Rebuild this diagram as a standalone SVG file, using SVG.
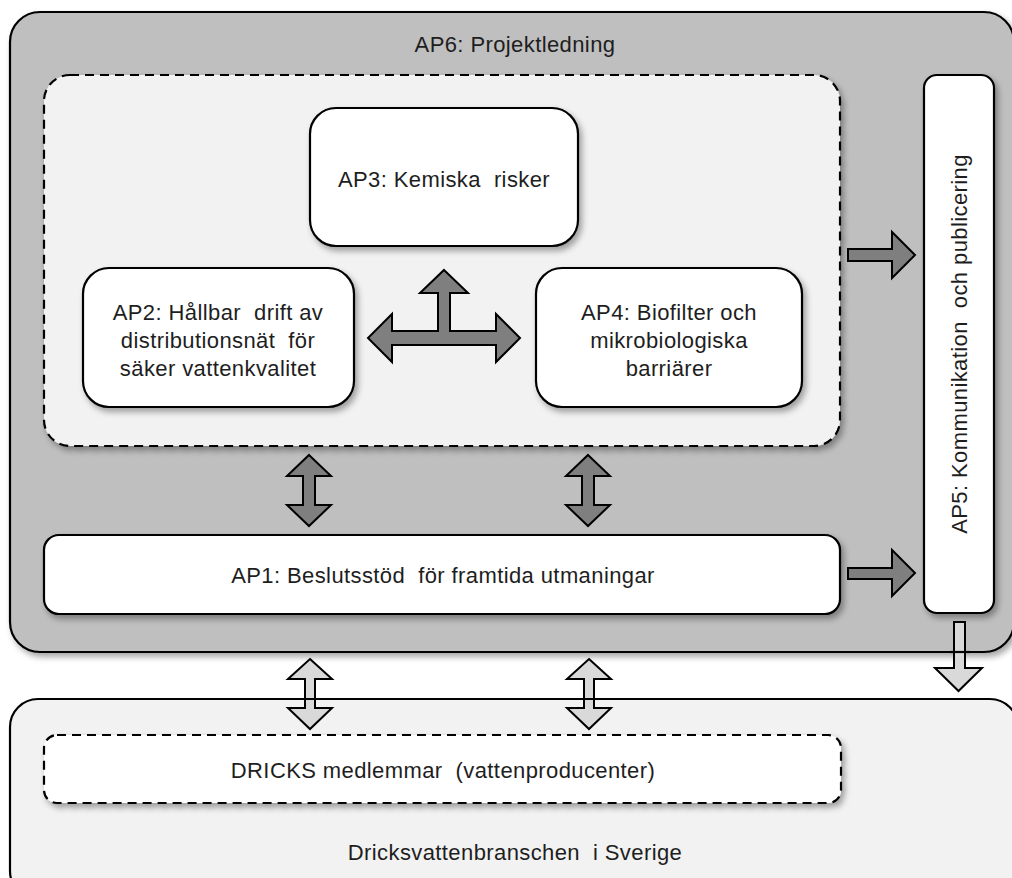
<svg xmlns="http://www.w3.org/2000/svg" width="1012" height="878" viewBox="0 0 1012 878">
<defs>
<filter id="sh" x="-10%" y="-10%" width="130%" height="130%">
<feDropShadow dx="3" dy="4" stdDeviation="3" flood-color="#000" flood-opacity="0.35"/>
</filter>
</defs>
<style>
.box{stroke:#000;stroke-width:2.2}
.dash{stroke:#000;stroke-width:2.2;stroke-dasharray:9 6}
.t{font-family:"Liberation Sans",Arial,sans-serif;font-size:22px;fill:#1e1e1e;text-anchor:middle;letter-spacing:0.4px;white-space:pre}
.dark{fill:#7f7f7f;stroke:#000;stroke-width:2;stroke-linejoin:miter}
.light{fill:#d9d9d9;stroke:#000;stroke-width:2;stroke-linejoin:miter}
.ol{fill:none;stroke:#000;stroke-width:2.2}
</style>
<rect width="1012" height="878" fill="#fff"/>
<g id="ap6">
<rect class="box" x="10" y="12" width="1004" height="640" rx="30" fill="#bfbfbf" filter="url(#sh)"/>
<text class="t" x="515" y="52">AP6: Projektledning</text>
</g>
<g id="bransch">
<rect class="box" x="10" y="699" width="1008" height="200" rx="28" fill="#f2f2f2"/>
<text class="t" x="515" y="860" xml:space="preserve">Dricksvattenbranschen  i Sverige</text>
</g>
<g id="inner">
<rect class="dash" x="44" y="75" width="796" height="371" rx="26" fill="#f2f2f2" filter="url(#sh)"/>
</g>
<g id="ap3">
<rect class="box" x="310" y="108" width="268" height="138" rx="26" fill="#fff" filter="url(#sh)"/>
<text class="t" x="444" y="187" xml:space="preserve">AP3: Kemiska  risker</text>
</g>
<g id="ap2">
<rect class="box" x="83" y="268" width="271" height="139" rx="26" fill="#fff" filter="url(#sh)"/>
<text class="t" x="218" y="320" xml:space="preserve">AP2: Hållbar  drift av</text>
<text class="t" x="218" y="348" xml:space="preserve">distributionsnät  för</text>
<text class="t" x="218" y="376">säker vattenkvalitet</text>
</g>
<g id="ap4">
<rect class="box" x="536" y="268" width="266" height="139" rx="26" fill="#fff" filter="url(#sh)"/>
<text class="t" x="669" y="320">AP4: Biofilter och</text>
<text class="t" x="669" y="348">mikrobiologiska</text>
<text class="t" x="669" y="376">barriärer</text>
</g>
<g id="ap1">
<rect class="box" x="44" y="535" width="796" height="79" rx="15" fill="#fff" filter="url(#sh)"/>
<text class="t" x="443" y="583" xml:space="preserve">AP1: Beslutsstöd  för framtida utmaningar</text>
</g>
<g id="ap5">
<rect class="box" x="924" y="75" width="70" height="538" rx="13" fill="#fff" filter="url(#sh)"/>
<text class="t" transform="translate(967,344) rotate(-90)" x="0" y="0" xml:space="preserve">AP5: Kommunikation  och publicering</text>
</g>
<g id="dricks">
<rect class="dash" x="44" y="735" width="797" height="68" rx="13" fill="#fff" filter="url(#sh)"/>
<text class="t" x="443" y="778" xml:space="preserve">DRICKS medlemmar  (vattenproducenter)</text>
</g>
<g id="connectors">
<path class="dark" d="M848,249 H892 V232 L915,255 L892,278 V261 H848 Z"/>
<path class="dark" d="M848,568 H892 V550 L915,573 L892,596 V579 H848 Z"/>
<path class="dark" d="M444,270 L468,293 H450 V331 H496 V314 L520,338 L496,362 V345 H392 V362 L368,338 L392,314 V331 H438 V293 H420 Z"/>
<path class="dark" d="M309,455 L331,476 H315 V505 H331 L309,526 L287,505 H303 V476 H287 Z"/>
<path class="dark" d="M588,455 L610,476 H594 V505 H610 L588,526 L566,505 H582 V476 H566 Z"/>
<path class="light" d="M310,659 L332,679 H315 V708 H332 L310,729 L288,708 H305 V679 H288 Z"/>
<path class="light" d="M589,659 L611,679 H594 V708 H611 L589,729 L567,708 H584 V679 H567 Z"/>
<path class="light" d="M954,622 H965 V668 H982 L958.5,691 L935,668 H954 Z"/>
</g>
<g id="outlines">
<line class="ol" x1="290" y1="699" x2="612" y2="699"/>
<line class="ol" x1="950" y1="652" x2="970" y2="652"/>
</g>
</svg>
